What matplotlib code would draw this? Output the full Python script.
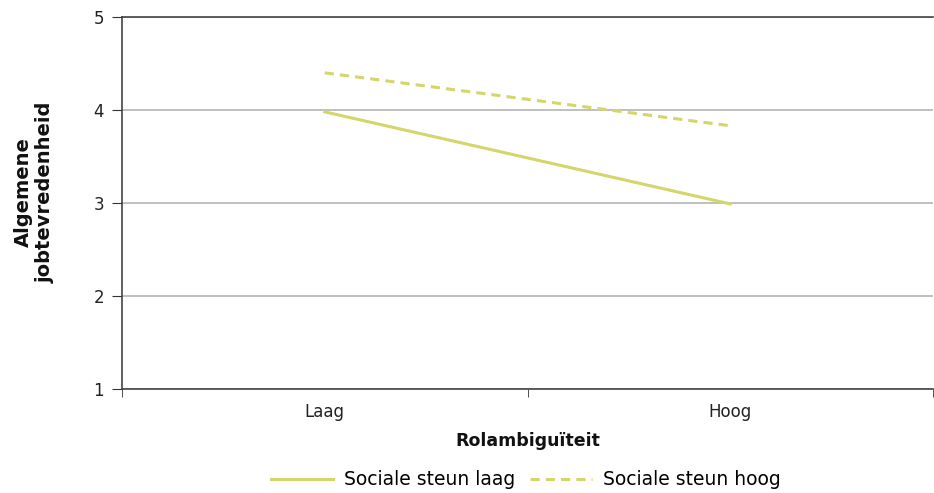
import matplotlib.pyplot as plt

# data
categorieen = ["Laag", "Hoog"]
steun_laag = [3.98, 2.99]
steun_hoog = [4.40, 3.83]
kleur = "#d4d66a"

fig = plt.figure(figsize=(9.34, 4.93), dpi=100)
ax = fig.add_axes([0.1306, 0.211, 0.8684, 0.7545])

x = list(range(len(categorieen)))
ax.plot(x, steun_laag, color=kleur, lw=2.2, label="Sociale steun laag")
ax.plot(x, steun_hoog, color=kleur, lw=2.2, ls=(0, (3, 2)), label="Sociale steun hoog")

ax.set_xlim(-0.5, 1.5)
ax.set_ylim(1, 5)
ax.set_yticks([1, 2, 3, 4, 5])
ax.set_xticks(x)
ax.set_xticklabels(categorieen)
ax.set_xticks([-0.5, 0.5, 1.5], minor=True)
ax.tick_params(axis="x", which="major", length=0, pad=10, labelsize=12, labelcolor="#222222")
ax.tick_params(axis="x", which="minor", length=6, color="#333333", direction="out")
ax.tick_params(axis="y", length=7, color="#333333", labelsize=12, pad=6, labelcolor="#222222")

ax.grid(axis="y", color="#b5b5b5", lw=1.2)
ax.set_axisbelow(True)
for s in ["left", "bottom", "top"]:
    ax.spines[s].set_color("#444444")
    ax.spines[s].set_linewidth(1.2)
ax.spines["right"].set_visible(False)

ax.set_xlabel("Rolambiguïteit", fontsize=12.5, fontweight="bold", labelpad=8, color="#111111")
ax.set_ylabel("Algemene\njobtevredenheid", fontsize=14, fontweight="bold", color="#111111")
ax.yaxis.set_label_coords(-0.083, 0.53)

fig.legend(loc="center", bbox_to_anchor=(0.563, 0.027), ncol=2, frameon=False,
           fontsize=13.5, handlelength=3.3, columnspacing=0.8, handletextpad=0.6)

fig.savefig("out.png", dpi=100)
